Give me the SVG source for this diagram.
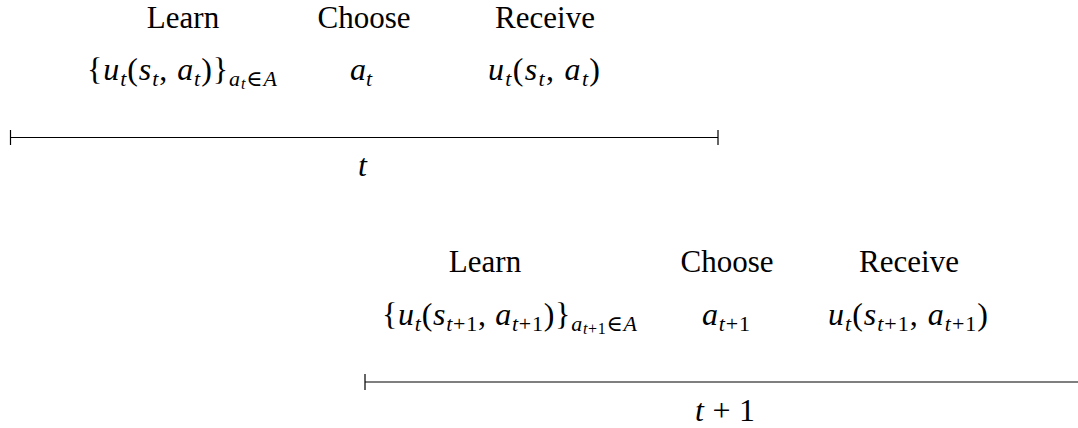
<svg xmlns="http://www.w3.org/2000/svg" width="1078" height="428" viewBox="0 0 1078 428">
<style>
text{font-family:"Liberation Serif","DejaVu Serif",serif;font-size:31px;fill:#000}
.m{font-size:32px}
.i{font-style:italic}
.s{font-size:22px}
.ss{font-size:16px}
.tl{stroke:#000;stroke-width:1.2;fill:none}
</style>
<rect width="1078" height="428" fill="#fff"/>
<g id="period-t">
<text x="183" y="28" text-anchor="middle">Learn</text>
<text x="364" y="28" text-anchor="middle">Choose</text>
<text x="545" y="28" text-anchor="middle">Receive</text>
<text class="m" x="87" y="80" textLength="190" lengthAdjust="spacing">{<tspan class="i">u</tspan><tspan class="s i" dy="6">t</tspan><tspan dy="-6">(</tspan><tspan class="i">s</tspan><tspan class="s i" dy="6">t</tspan><tspan dy="-6">, </tspan><tspan class="i">a</tspan><tspan class="s i" dy="6">t</tspan><tspan dy="-6">)}</tspan><tspan class="s i" dy="6">a</tspan><tspan class="ss i" dy="3">t</tspan><tspan class="s" dy="-3">∈</tspan><tspan class="s i">A</tspan></text>
<text class="m" x="350" y="80" textLength="22" lengthAdjust="spacing"><tspan class="i">a</tspan><tspan class="s i" dy="6">t</tspan></text>
<text class="m" x="488" y="80" textLength="112" lengthAdjust="spacing"><tspan class="i">u</tspan><tspan class="s i" dy="6">t</tspan><tspan dy="-6">(</tspan><tspan class="i">s</tspan><tspan class="s i" dy="6">t</tspan><tspan dy="-6">, </tspan><tspan class="i">a</tspan><tspan class="s i" dy="6">t</tspan><tspan dy="-6">)</tspan></text>
<text class="m i" x="358" y="176">t</text>
</g>
<g id="period-t1">
<text x="485" y="272" text-anchor="middle">Learn</text>
<text x="727" y="272" text-anchor="middle">Choose</text>
<text x="909" y="272" text-anchor="middle">Receive</text>
<text class="m" x="382" y="325" textLength="255" lengthAdjust="spacing">{<tspan class="i">u</tspan><tspan class="s i" dy="6">t</tspan><tspan dy="-6">(</tspan><tspan class="i">s</tspan><tspan class="s" dy="6"><tspan class="i">t</tspan>+1</tspan><tspan dy="-6">, </tspan><tspan class="i">a</tspan><tspan class="s" dy="6"><tspan class="i">t</tspan>+1</tspan><tspan dy="-6">)}</tspan><tspan class="s i" dy="6">a</tspan><tspan class="ss" dy="3"><tspan class="i">t</tspan>+1</tspan><tspan class="s" dy="-3">∈</tspan><tspan class="s i">A</tspan></text>
<text class="m" x="702" y="325" textLength="48" lengthAdjust="spacing"><tspan class="i">a</tspan><tspan class="s" dy="6"><tspan class="i">t</tspan>+1</tspan></text>
<text class="m" x="828" y="325" textLength="160" lengthAdjust="spacing"><tspan class="i">u</tspan><tspan class="s i" dy="6">t</tspan><tspan dy="-6">(</tspan><tspan class="i">s</tspan><tspan class="s" dy="6"><tspan class="i">t</tspan>+1</tspan><tspan dy="-6">, </tspan><tspan class="i">a</tspan><tspan class="s" dy="6"><tspan class="i">t</tspan>+1</tspan><tspan dy="-6">)</tspan></text>
<text class="m" x="695" y="421" textLength="60" lengthAdjust="spacing"><tspan class="i">t</tspan> + 1</text>
</g>
<g id="connectors">
<path class="tl" d="M10.5 137.5H718M10.5 130V145M718 130V145"/>
<path class="tl" d="M365 382H1078M365 374V390"/>
</g>
</svg>
